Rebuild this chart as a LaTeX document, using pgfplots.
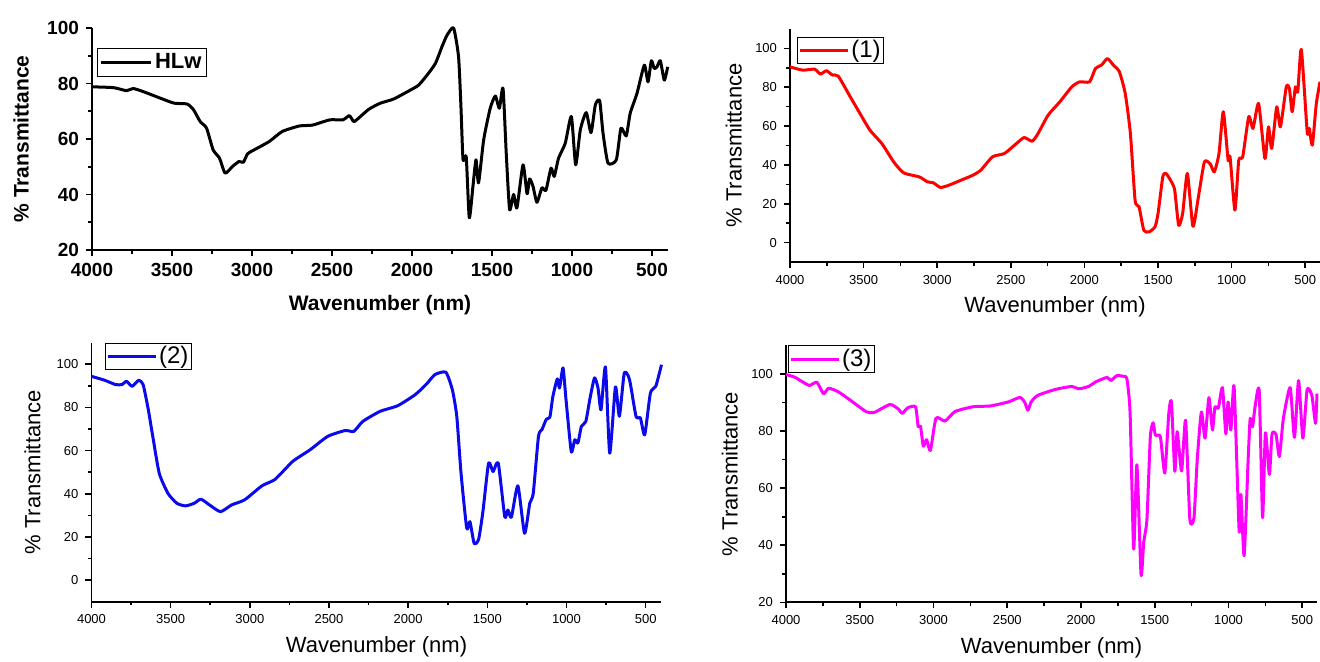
\documentclass[border=0pt]{standalone}
\usepackage{fontspec}
\setmainfont{Liberation Sans}
\usepackage{pgfplots}
\usepackage{pgfplotstable}
\pgfplotsset{compat=1.18}

\definecolor{specred}{RGB}{255,0,0}
\definecolor{specblue}{RGB}{10,10,235}
\definecolor{specmag}{RGB}{255,0,255}

% HLw
\pgfplotstableread{
wn T
4000 78.8
3865 78.5
3784 77.4
3743 78.2
3676 77.0
3568 74.6
3486 72.9
3405 72.6
3365 70.5
3324 66.3
3284 63.9
3243 56.1
3203 53.1
3168 47.7
3122 50.1
3081 51.9
3054 51.6
3027 54.7
2986 56.1
2892 59.1
2811 62.7
2703 64.7
2622 65.0
2514 66.9
2432 66.9
2392 68.4
2365 66.3
2346 66.9
2270 70.7
2198 72.9
2115 74.4
2011 77.6
1959 79.4
1906 83.0
1854 87.2
1813 93.2
1781 97.4
1740 100.0
1709 89.6
1694 71.6
1681 52.5
1661 53.5
1642 31.6
1619 43.0
1600 52.5
1584 44.2
1552 59.7
1511 71.1
1479 75.5
1454 71.1
1431 78.2
1411 54.9
1390 34.6
1365 40.0
1344 35.2
1306 50.7
1281 40.3
1265 45.6
1244 43.0
1219 37.2
1188 42.4
1163 41.5
1131 49.5
1111 46.5
1084 53.1
1042 58.5
1004 68.1
977 50.7
948 63.3
911 69.5
881 62.3
854 72.3
827 73.8
806 62.1
775 51.3
723 52.5
694 63.9
661 61.1
636 69.3
594 76.4
548 86.6
525 80.6
504 88.2
486 85.4
469 86.0
448 88.2
423 81.2
402 86.0
}\dataA

% (1)
\pgfplotstableread{
wn T
4000 90.5
3914 88.8
3833 89.3
3793 86.8
3753 88.5
3712 86.3
3672 85.7
3591 75.1
3538 68.2
3457 57.9
3376 51.0
3296 41.6
3228 35.9
3121 33.8
3067 31.3
3027 30.8
2978 28.4
2919 29.6
2839 32.1
2758 34.7
2704 37.3
2624 44.2
2543 45.9
2462 51.0
2409 54.1
2355 52.2
2315 56.2
2247 65.6
2167 72.5
2086 80.2
2032 82.8
1965 82.8
1925 89.7
1884 91.4
1844 94.8
1804 91.4
1763 88.0
1723 76.8
1688 56.2
1656 21.8
1629 18.4
1597 6.4
1562 5.5
1521 8.1
1500 15.0
1468 33.8
1446 35.6
1409 31.3
1387 27.0
1360 8.9
1333 15.0
1301 35.6
1263 8.4
1226 23.5
1185 41.6
1145 40.4
1118 36.4
1086 45.9
1057 67.4
1024 42.4
1011 44.2
978 16.7
952 42.4
925 44.2
884 64.8
855 58.8
817 71.6
774 43.3
750 59.6
728 48.5
694 69.9
669 59.6
629 80.2
608 79.4
589 67.4
567 80.2
551 77.7
527 99.5
487 57.0
473 58.8
452 50.2
425 71.6
400 82.8
}\dataB

% (2)
\pgfplotstableread{
wn T
4000 94.4
3917 92.6
3848 90.6
3807 90.6
3779 92.1
3743 89.8
3702 92.6
3674 90.6
3641 78.9
3613 66.6
3572 49.5
3517 40.2
3461 35.6
3406 34.4
3351 35.6
3309 37.5
3254 34.8
3185 31.7
3116 34.8
3033 37.2
2923 43.7
2840 46.7
2729 55.0
2619 60.4
2508 66.6
2398 69.3
2343 68.9
2287 73.5
2177 78.2
2066 80.8
1956 85.9
1887 90.6
1831 95.2
1762 96.3
1721 88.2
1693 75.9
1666 49.5
1630 24.0
1610 27.1
1583 17.0
1555 18.9
1528 31.7
1492 54.2
1464 50.3
1431 54.2
1390 29.4
1370 32.5
1348 29.1
1307 43.7
1265 21.7
1232 35.6
1210 40.2
1177 66.6
1155 69.7
1127 74.6
1105 75.5
1086 85.1
1058 93.2
1044 89.0
1022 98.3
1003 83.6
970 59.6
948 65.0
928 63.5
906 71.2
878 73.5
851 84.4
823 93.7
801 89.0
782 78.9
754 98.8
727 58.8
691 89.5
666 75.9
635 96.0
602 92.9
561 75.9
533 75.1
506 67.3
470 86.7
436 89.8
400 99.8
}\dataC

% (3)
\pgfplotstableread{
wn T
4000 99.8
3938 98.8
3845 96.0
3791 97.1
3746 93.1
3711 95.0
3644 93.7
3564 90.8
3457 86.8
3403 86.5
3296 89.3
3243 87.9
3211 86.2
3176 88.1
3122 88.5
3104 81.6
3088 81.6
3069 74.7
3047 77.0
3021 73.2
2983 84.5
2922 83.5
2855 86.8
2734 88.5
2614 88.8
2493 90.2
2413 91.8
2381 90.0
2360 87.3
2338 90.2
2293 92.5
2172 94.6
2065 95.6
2012 94.8
1945 95.7
1905 97.1
1824 98.8
1798 97.7
1757 99.4
1717 99.2
1689 98.3
1667 86.1
1643 38.7
1621 68.2
1593 29.7
1575 41.0
1553 49.1
1530 78.0
1511 82.9
1496 78.6
1462 78.0
1432 65.3
1405 86.1
1387 90.2
1364 65.9
1348 79.8
1318 66.0
1291 83.8
1262 49.1
1234 49.7
1212 70.0
1184 86.7
1159 77.5
1133 91.7
1109 80.4
1092 88.4
1069 88.1
1041 95.2
1018 79.0
1003 90.2
984 80.4
962 95.6
928 45.1
916 57.8
894 36.4
866 71.1
853 84.4
837 81.5
821 88.1
792 94.2
769 49.7
750 79.4
723 64.8
705 78.9
678 78.9
655 71.1
628 84.4
582 95.2
553 77.8
525 97.7
496 77.5
467 94.5
435 92.5
410 82.7
400 93.1
}\dataD

\pgfplotsset{
  irpanel/.style={
    scale only axis,
    x dir=reverse,
    xmin=400, xmax=4000,
    xtick={500,1000,...,4000},
    minor x tick num=1,
    minor y tick num=1,
    axis x line=bottom, axis y line=left,
    axis line style={-, line width=0.9pt},
    tick align=outside,
    major tick length=3pt,
    minor tick length=1.8pt,
    every tick/.style={black, line width=0.8pt},
    /pgf/number format/assume math mode=true,
    /pgf/number format/1000 sep={},
    clip=false,
    legend cell align=left,
    legend style={anchor=north west, draw=black, line width=0.5pt,
      inner sep=0.5pt, nodes={inner sep=1pt}},
    legend image code/.code={\draw[##1] (0pt,0pt) -- (24pt,0pt);},
    xlabel={Wavenumber (nm)},
    ylabel={\% Transmittance},
  },
  thinpanel/.style={
    irpanel,
    ticklabel style={font=\fontsize{6.5}{7}\selectfont},
    label style={font=\fontsize{11}{13}\selectfont},
    legend style={font=\fontsize{12}{14}\selectfont},
  },
  spectrum/.style={line width=1.5pt, line join=round, smooth, tension=0.35},
}

\begin{document}
\begin{tikzpicture}
\useasboundingbox (0,0) rectangle (660pt,331pt);

% top left: HLw
\begin{axis}[irpanel,
  at={(46pt,206pt)}, anchor=south west,
  width=288pt, height=111pt,
  ymin=20, ymax=100, ytick={20,40,...,100},
  axis line style={-, line width=1.1pt},
  ticklabel style={font=\bfseries\fontsize{9.5}{11}\selectfont},
  label style={font=\bfseries\fontsize{10.5}{12}\selectfont},
  xlabel style={at={(axis description cs:0.5,-0.248)}, anchor=center},
  ylabel style={at={(axis description cs:-0.123,0.5)}, anchor=center},
  legend style={at={(axis description cs:0.008,0.91)},
    inner sep=1pt, nodes={inner sep=1.5pt},
    font=\bfseries\fontsize{11}{13}\selectfont},
  legend image code/.code={\draw[#1] (0pt,0pt) -- (25pt,0pt);},
]
\addplot[black, spectrum] table[x=wn, y=T] {\dataA};
\addlegendentry{HLw}
\end{axis}

% top right: (1)
\begin{axis}[thinpanel,
  at={(395pt,200pt)}, anchor=south west,
  width=265pt, height=116.5pt,
  ymin=-10, ymax=110, ytick={0,20,...,100},
  xlabel style={at={(axis description cs:0.5,-0.193)}, anchor=center},
  ylabel style={at={(axis description cs:-0.106,0.5)}, anchor=center},
  legend style={at={(axis description cs:0.013,0.966)}},
]
\addplot[specred, spectrum] table[x=wn, y=T] {\dataB};
\addlegendentry{(1)}
\end{axis}

% bottom left: (2)
\begin{axis}[thinpanel,
  at={(45.75pt,30.15pt)}, anchor=south west,
  width=285pt, height=129.5pt,
  ymin=-10, ymax=110, ytick={0,20,...,100},
  xlabel style={at={(axis description cs:0.5,-0.174)}, anchor=center},
  ylabel style={at={(axis description cs:-0.1035,0.5)}, anchor=center},
  legend style={at={(axis description cs:0.023,1.0)}},
]
\addplot[specblue, spectrum] table[x=wn, y=T] {\dataC};
\addlegendentry{(2)}
\end{axis}

% bottom right: (3)
\begin{axis}[thinpanel,
  at={(393pt,29.8pt)}, anchor=south west,
  width=265.5pt, height=128.5pt,
  ymin=20, ymax=110, ytick={20,40,...,100},
  xlabel style={at={(axis description cs:0.5,-0.177)}, anchor=center},
  ylabel style={at={(axis description cs:-0.106,0.5)}, anchor=center},
  legend style={at={(axis description cs:0.003,1.0)}},
]
\addplot[specmag, spectrum] table[x=wn, y=T] {\dataD};
\addlegendentry{(3)}
\end{axis}
\end{tikzpicture}
\end{document}
